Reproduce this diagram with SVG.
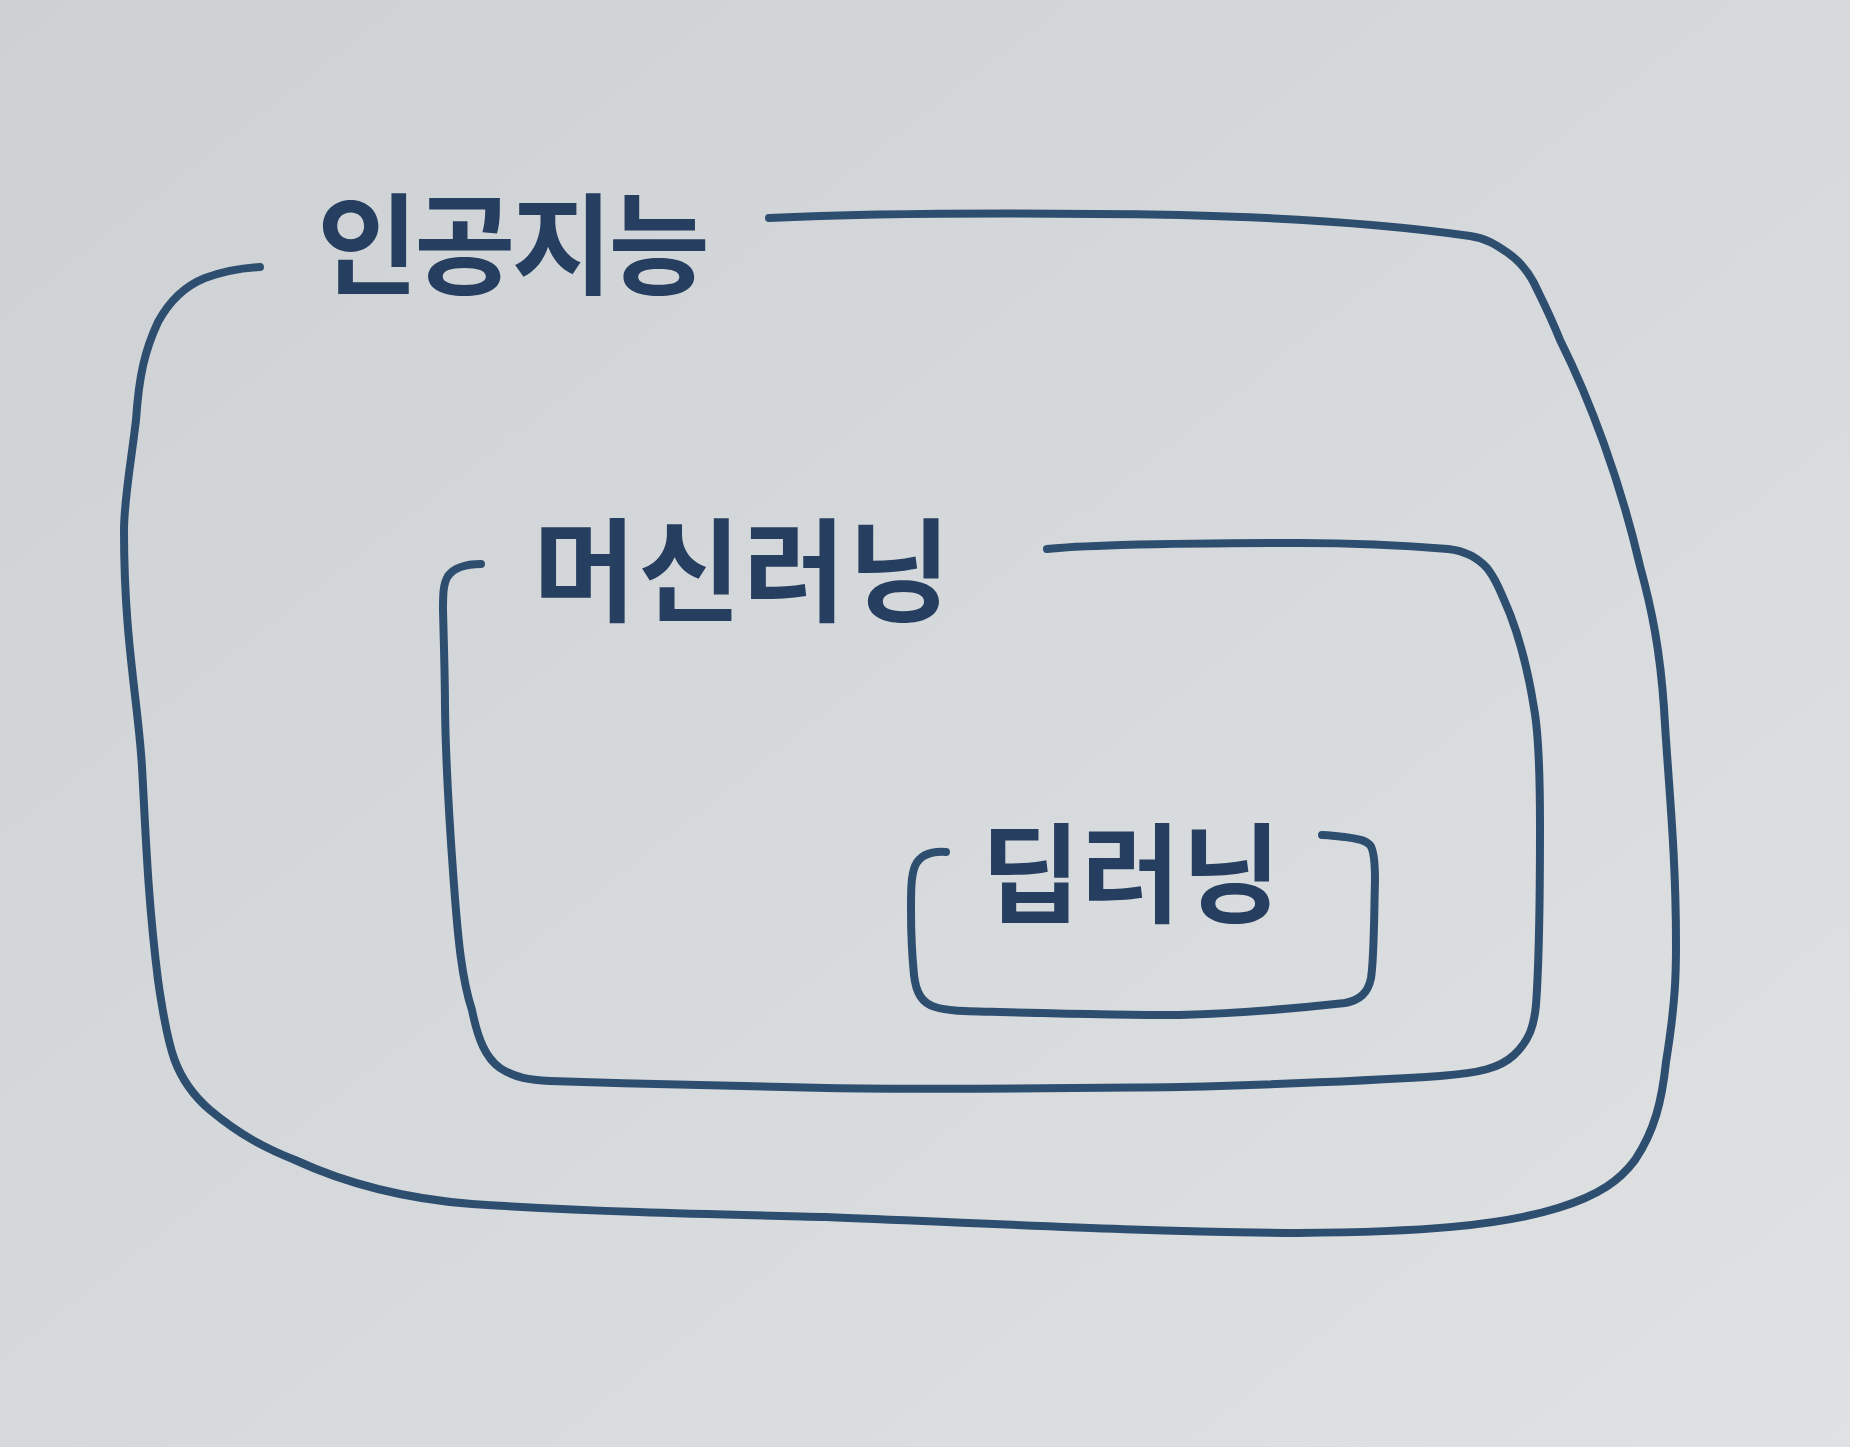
<svg xmlns="http://www.w3.org/2000/svg" width="1850" height="1447" viewBox="0 0 1850 1447">
<defs>
<linearGradient id="bg" x1="0" y1="0" x2="1" y2="1">
<stop offset="0" stop-color="#cdd1d4"/>
<stop offset="0.6" stop-color="#d8dbdd"/>
<stop offset="1" stop-color="#dfe1e2"/>
</linearGradient>
<style>
.box{fill:none;stroke:#2e4e70;stroke-width:8;stroke-linecap:round;stroke-linejoin:round}
.lbl{font-family:"Noto Sans CJK KR","Noto Sans",sans-serif;fill:#263e5f;font-weight:700}
</style>
</defs>
<rect width="1850" height="1447" fill="url(#bg)"/>
<g id="connectors"></g>
<g id="ai">
<path class="box" d="M260,267 C240,268 224,271 205,278 C185,286 170,300 158,322 C145,350 139,375 136,420 C130,470 124,500 124,531 C124,640 138,700 142,767 C146,840 148,900 158,980 C168,1050 175,1080 210,1110 C240,1135 265,1148 295,1160 C360,1190 420,1200 472,1204 C600,1212 700,1214 826,1217 C1000,1224 1150,1232 1298,1233 C1420,1232 1500,1226 1558,1208 C1600,1195 1620,1180 1635,1160 C1655,1130 1662,1100 1666,1062 C1676,1000 1676,970 1676,944 C1676,850 1668,780 1664,708 C1660,650 1652,610 1640,566 C1620,480 1590,400 1560,340 C1548,310 1540,296 1534,283 C1526,268 1518,260 1508,253 C1495,244 1485,238 1470,236 C1400,226 1300,218 1180,215 C1050,213 900,212 769,218"/>
<text class="lbl" x="317" y="286" font-size="110" letter-spacing="-4">인공지능</text>
</g>
<g id="ml">
<path class="box" d="M481,564 C466,564 454,568 448,576 C443,584 443,595 443,610 C444,650 445,680 445,708 C446,780 450,830 454,885 C458,940 462,980 472,1010 C478,1040 486,1058 500,1068 C515,1078 530,1080 550,1081 C640,1084 720,1086 826,1088 C950,1090 1080,1088 1180,1087 C1290,1084 1380,1080 1440,1076 C1480,1073 1500,1068 1514,1055 C1530,1040 1534,1025 1536,1005 C1540,950 1540,880 1540,826 C1540,760 1538,730 1534,708 C1528,670 1520,640 1510,614 C1500,590 1495,578 1487,568 C1478,558 1466,551 1448,549 C1400,545 1340,543 1298,543 C1220,543 1160,544 1121,545 C1090,546 1065,547 1047,549"/>
<text class="lbl" x="533" y="613" font-size="112" letter-spacing="2">머신러닝</text>
</g>
<g id="dl">
<path class="box" d="M946,852 C930,851 920,855 915,866 C911,876 911,890 911,910 C911,940 912,955 914,975 C916,993 922,1003 935,1007 C948,1011 960,1011 1000,1012 C1080,1014 1140,1015 1180,1015 C1250,1013 1300,1008 1345,1003 C1360,1000 1368,993 1371,978 C1374,960 1374,920 1375,880 C1375,862 1374,850 1370,845 C1365,840 1358,839 1345,837 C1335,836 1328,835 1322,835"/>
<text class="lbl" x="981" y="914" font-size="108" letter-spacing="1">딥러닝</text>
</g>
</svg>
